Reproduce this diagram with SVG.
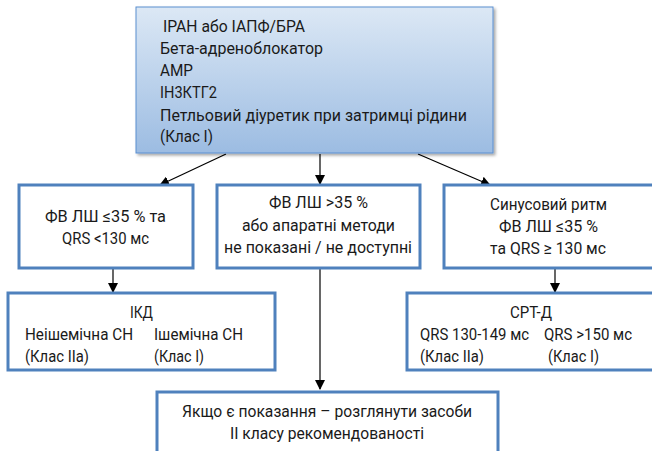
<svg xmlns="http://www.w3.org/2000/svg" width="652" height="451" viewBox="0 0 652 451">
<defs>
<linearGradient id="g" x1="0" y1="0" x2="0" y2="1">
<stop offset="0" stop-color="#dce8f5"/>
<stop offset="1" stop-color="#9cbce2"/>
</linearGradient>
<filter id="sh" x="-5%" y="-5%" width="112%" height="115%">
<feDropShadow dx="2" dy="2" stdDeviation="1.5" flood-color="#000" flood-opacity="0.35"/>
</filter>
<marker id="ah" markerWidth="10" markerHeight="10" refX="9" refY="5" orient="auto" markerUnits="userSpaceOnUse">
<path d="M0,0 L10,5 L0,10 z" fill="#000"/>
</marker>
<style>
.box{fill:#fff;stroke:#4f81bd;stroke-width:3}
.t{font-family:Roboto,"Liberation Sans",sans-serif;font-size:17px;fill:#1a1a1a}
.c{text-anchor:middle}
.ln{stroke:#000;stroke-width:1.2;fill:none;marker-end:url(#ah)}
</style>
</defs>
<g id="connectors">
<line class="ln" x1="226" y1="154" x2="160" y2="185"/>
<line class="ln" x1="320" y1="154" x2="320" y2="184"/>
<line class="ln" x1="418" y1="154" x2="490" y2="185"/>
<line class="ln" x1="113" y1="268" x2="113" y2="292"/>
<line class="ln" x1="555" y1="268" x2="555" y2="292"/>
<line class="ln" x1="320" y1="268" x2="320" y2="389"/>
</g>
<g id="top">
<rect x="136" y="7" width="357" height="146" fill="url(#g)" stroke="#5b8fd0" stroke-width="1" filter="url(#sh)"/>
<text class="t" x="163" y="32" textLength="142" lengthAdjust="spacingAndGlyphs">ІРАН або ІАПФ/БРА</text>
<text class="t" x="160" y="54" textLength="163" lengthAdjust="spacingAndGlyphs">Бета-адреноблокатор</text>
<text class="t" x="160" y="76" textLength="33" lengthAdjust="spacingAndGlyphs">АМР</text>
<text class="t" x="160" y="98" textLength="57" lengthAdjust="spacingAndGlyphs">ІН3КТГ2</text>
<text class="t" x="160" y="121" textLength="307" lengthAdjust="spacingAndGlyphs">Петльовий діуретик при затримці рідини</text>
<text class="t" x="160" y="142" textLength="53" lengthAdjust="spacingAndGlyphs">(Клас І)</text>
</g>
<g id="left">
<rect class="box" x="19" y="185" width="174" height="83"/>
<text class="t c" x="105.5" y="222" textLength="121" lengthAdjust="spacingAndGlyphs">ФВ ЛШ ≤35 % та</text>
<text class="t c" x="105.5" y="244" textLength="87" lengthAdjust="spacingAndGlyphs">QRS &lt;130 мс</text>
</g>
<g id="middle">
<rect class="box" x="217" y="185" width="203" height="83"/>
<text class="t c" x="318.5" y="208" textLength="99" lengthAdjust="spacingAndGlyphs">ФВ ЛШ &gt;35 %</text>
<text class="t c" x="318.5" y="231" textLength="153" lengthAdjust="spacingAndGlyphs">або апаратні методи</text>
<text class="t c" x="318" y="253" textLength="188" lengthAdjust="spacingAndGlyphs">не показані / не доступні</text>
</g>
<g id="right">
<rect class="box" x="444" y="185" width="220" height="83"/>
<text class="t c" x="548.5" y="210" textLength="117" lengthAdjust="spacingAndGlyphs">Синусовий ритм</text>
<text class="t c" x="548.5" y="232" textLength="99" lengthAdjust="spacingAndGlyphs">ФВ ЛШ ≤35 %</text>
<text class="t c" x="548" y="254" textLength="116" lengthAdjust="spacingAndGlyphs">та QRS ≥ 130 мс</text>
</g>
<g id="icd">
<rect class="box" x="8" y="293" width="267" height="77"/>
<text class="t c" x="141.5" y="318" textLength="23" lengthAdjust="spacingAndGlyphs">ІКД</text>
<text class="t" x="25" y="340" textLength="108" lengthAdjust="spacingAndGlyphs">Неішемічна СН</text>
<text class="t" x="154" y="340" textLength="89" lengthAdjust="spacingAndGlyphs">Ішемічна СН</text>
<text class="t" x="25" y="362" textLength="64" lengthAdjust="spacingAndGlyphs">(Клас IIa)</text>
<text class="t" x="154" y="362" textLength="50" lengthAdjust="spacingAndGlyphs">(Клас I)</text>
</g>
<g id="crt">
<rect class="box" x="407" y="293" width="260" height="77"/>
<text class="t c" x="531" y="318" textLength="42" lengthAdjust="spacingAndGlyphs">СРТ-Д</text>
<text class="t" x="420" y="340" textLength="109" lengthAdjust="spacingAndGlyphs">QRS 130-149 мс</text>
<text class="t" x="544" y="340" textLength="88" lengthAdjust="spacingAndGlyphs">QRS &gt;150 мс</text>
<text class="t" x="420" y="362" textLength="64" lengthAdjust="spacingAndGlyphs">(Клас IIa)</text>
<text class="t" x="548" y="362" textLength="51" lengthAdjust="spacingAndGlyphs">(Клас I)</text>
</g>
<g id="bottom">
<rect class="box" x="157" y="392" width="341" height="75"/>
<text class="t c" x="327" y="417" textLength="290" lengthAdjust="spacingAndGlyphs">Якщо є показання – розглянути засоби</text>
<text class="t c" x="327" y="439" textLength="194" lengthAdjust="spacingAndGlyphs">II класу рекомендованості</text>
</g>
</svg>
